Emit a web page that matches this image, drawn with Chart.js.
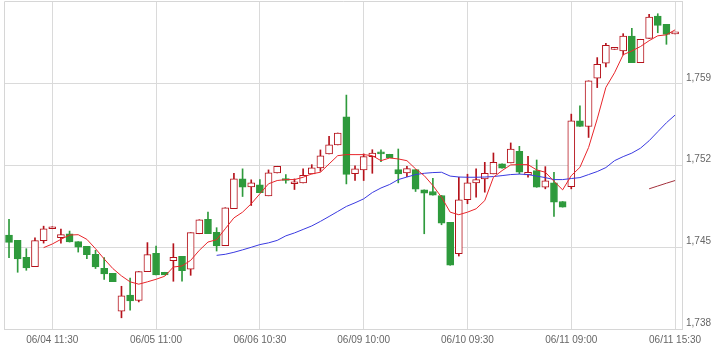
<!DOCTYPE html>
<html>
<head>
<meta charset="utf-8">
<script src="https://cdn.jsdelivr.net/npm/chart.js@4.4.1/dist/chart.umd.min.js"></script>
<style>
  html, body { margin: 0; padding: 0; background: #fff; }
  #wrap { position: relative; width: 719px; height: 352px; }
</style>
</head>
<body>
<div id="wrap"><canvas id="chart"></canvas></div>
<script>
// 30 minute bars, 13 per day
const days = ['06/04', '06/05', '06/06', '06/09', '06/10', '06/11'];
const slots = ['09:00', '09:30', '10:00', '10:30', '11:00', '11:30', '12:30', '13:00', '13:30', '14:00', '14:30', '15:00', '15:30'];
const labelIdx = [5, 17, 29, 41, 53, 65, 77];
const yTicks = [1738, 1745, 1752, 1759];

const open = [
  1746.05, 1745.59, 1744.14, 1743.35, 1745.57, 1746.59, 1745.82, 1746.16, 1745.48, 1745.08,
  1744.40, 1743.20, 1742.77, 1739.53, 1740.90, 1740.44, 1742.92, 1744.48, 1742.86, 1743.86,
  1744.23, 1743.12, 1746.16, 1747.39, 1746.28, 1745.14, 1748.30, 1750.86, 1750.18, 1750.35,
  1749.41, 1751.37, 1750.86, 1750.44, 1750.52, 1751.29, 1751.80, 1753.00, 1753.77, 1756.18,
  1751.31, 1751.63, 1752.77, 1753.08, 1752.97, 1751.66, 1751.37, 1751.66, 1749.92, 1749.78,
  1749.44, 1747.13, 1744.46, 1749.07, 1750.52, 1750.86, 1751.29, 1752.14, 1752.23, 1753.22,
  1751.20, 1751.57, 1750.14, 1750.52, 1748.92, 1750.20, 1755.84, 1755.35, 1759.49, 1760.77,
  1761.96, 1761.82, 1763.10, 1760.82, 1762.90, 1764.81, 1764.10, 1763.28
];
const high = [
  1747.39, 1745.59, 1744.88, 1745.82, 1746.81, 1746.76, 1746.56, 1746.39, 1745.48, 1745.08,
  1744.74, 1744.12, 1742.77, 1741.66, 1742.37, 1742.92, 1745.40, 1745.11, 1742.86, 1745.31,
  1744.23, 1746.25, 1747.36, 1748.01, 1746.68, 1748.39, 1751.34, 1751.72, 1750.78, 1750.80,
  1751.63, 1751.94, 1751.23, 1750.86, 1751.72, 1752.08, 1753.34, 1754.50, 1754.79, 1758.04,
  1751.97, 1753.00, 1753.36, 1753.34, 1752.97, 1753.42, 1751.94, 1751.66, 1749.92, 1750.91,
  1749.44, 1747.13, 1751.00, 1751.26, 1751.72, 1752.28, 1753.08, 1752.14, 1753.94, 1753.65,
  1752.79, 1752.48, 1751.91, 1751.43, 1748.92, 1756.41, 1757.12, 1759.26, 1761.25, 1762.48,
  1762.13, 1763.30, 1763.76, 1762.82, 1764.95, 1765.01, 1764.10, 1763.30
];
const low = [
  1744.12, 1742.86, 1743.03, 1743.35, 1745.36, 1746.59, 1745.36, 1745.45, 1744.59, 1744.03,
  1743.18, 1742.24, 1742.06, 1738.96, 1739.61, 1740.32, 1742.92, 1742.63, 1742.63, 1742.09,
  1742.09, 1742.60, 1746.16, 1746.16, 1744.68, 1745.14, 1748.30, 1749.35, 1748.58, 1749.67,
  1749.41, 1751.37, 1750.49, 1749.95, 1750.52, 1751.29, 1751.51, 1753.00, 1753.77, 1750.43,
  1750.72, 1750.72, 1751.34, 1752.34, 1752.68, 1750.52, 1751.06, 1749.78, 1746.16, 1749.46,
  1746.93, 1743.46, 1744.25, 1748.73, 1749.29, 1749.72, 1751.29, 1751.77, 1752.23, 1751.29,
  1751.00, 1750.14, 1750.01, 1747.64, 1748.44, 1750.01, 1755.35, 1754.41, 1758.68, 1760.45,
  1761.96, 1761.48, 1760.82, 1760.82, 1762.90, 1763.38, 1762.39, 1763.28
];
const close = [
  1745.42, 1744.00, 1743.23, 1745.57, 1746.59, 1746.76, 1746.08, 1745.45, 1745.02, 1744.37,
  1743.31, 1742.71, 1742.06, 1740.84, 1740.41, 1742.92, 1744.37, 1742.63, 1742.63, 1744.14,
  1743.00, 1746.25, 1747.36, 1746.16, 1745.11, 1748.39, 1750.86, 1750.14, 1750.52, 1749.67,
  1751.37, 1751.94, 1750.72, 1750.49, 1751.17, 1751.80, 1752.83, 1753.77, 1754.79, 1751.25,
  1751.72, 1752.77, 1753.08, 1753.00, 1752.68, 1751.29, 1751.74, 1749.97, 1749.63, 1749.46,
  1747.07, 1743.46, 1749.07, 1750.52, 1750.80, 1751.34, 1752.28, 1751.77, 1753.42, 1751.43,
  1751.43, 1750.14, 1750.69, 1748.86, 1748.44, 1755.84, 1755.35, 1759.26, 1760.68, 1762.30,
  1762.13, 1763.10, 1760.82, 1762.82, 1764.72, 1764.01, 1763.24, 1763.30
];

// moving averages as drawn
const ma5 = [
  null, null, null, null, 1744.97, 1745.28, 1745.68, 1746.05, 1746.08, 1745.68,
  1744.88, 1744.00, 1743.18, 1742.55, 1742.04, 1741.84, 1742.04, 1742.26, 1742.52, 1743.31,
  1743.40, 1743.88, 1744.74, 1745.45, 1745.65, 1746.59, 1747.52, 1748.01, 1748.73, 1749.58,
  1750.44, 1750.72, 1750.80, 1750.80, 1751.00, 1751.29, 1751.43, 1752.14, 1752.85, 1752.94,
  1752.94, 1752.94, 1752.85, 1752.42, 1752.65, 1752.57, 1752.42, 1751.72, 1751.14, 1750.29,
  1749.29, 1748.01, 1747.79, 1748.01, 1748.30, 1749.00, 1751.00, 1751.57, 1752.06, 1752.08,
  1752.08, 1751.63, 1751.43, 1750.66, 1749.92, 1751.14, 1751.85, 1753.55, 1756.00, 1758.70,
  1759.95, 1761.50, 1761.82, 1762.20, 1762.70, 1763.12, 1763.20, 1763.63
];
const ma25 = [
  null, null, null, null, null, null, null, null, null, null,
  null, null, null, null, null, null, null, null, null, null,
  null, null, null, null, 1744.31, 1744.40, 1744.57, 1744.78, 1745.00, 1745.23,
  1745.38, 1745.59, 1745.98, 1746.23, 1746.53, 1746.83, 1747.22, 1747.64, 1748.07, 1748.50,
  1748.81, 1749.15, 1749.69, 1750.08, 1750.38, 1750.80, 1751.02, 1751.23, 1751.34, 1751.40,
  1751.43, 1751.10, 1751.02, 1751.00, 1751.00, 1751.02, 1751.06, 1751.14, 1751.23, 1751.27,
  1751.23, 1751.10, 1750.97, 1750.80, 1750.80, 1750.89, 1750.97, 1751.23, 1751.49, 1751.83,
  1752.42, 1752.77, 1753.07, 1753.49, 1754.13, 1754.90, 1755.67, 1756.33
];
const ma75 = [1750.01, 1750.25, 1750.49, 1750.72]; // from bar 74

const UP = '#b5121b';
const DOWN = '#2e9a3c';

const times = [];
days.forEach(d => slots.forEach(s => times.push(d + ' ' + s)));
const isUp = close.map((c, i) => c >= open[i]);

const bodyData = times.map((t, i) => ({ x: i, y: [open[i], close[i]] }));
const wickData = times.map((t, i) => ({ x: i, y: [low[i], high[i]] }));
const toPoints = (arr, start) => arr.map((v, i) => ({ x: i + start, y: v })).filter(p => p.y !== null);

const frame = {
  id: 'frame',
  beforeDatasetsDraw(chart) {
    const { ctx, chartArea: a } = chart;
    ctx.save();
    ctx.strokeStyle = '#d6d6d6';
    ctx.lineWidth = 1;
    ctx.beginPath();
    ctx.moveTo(a.left + 0.5, a.bottom);
    ctx.lineTo(a.left + 0.5, a.top + 0.5);
    ctx.lineTo(a.right, a.top + 0.5);
    ctx.stroke();
    ctx.restore();
  }
};

const font = { family: '"Liberation Sans", Arial, sans-serif', size: 10 };

new Chart(document.getElementById('chart'), {
  type: 'bar',
  data: {
    datasets: [
      {
        type: 'line', data: toPoints(ma5, 0), borderColor: '#e8262b', borderWidth: 1,
        pointRadius: 0, tension: 0, order: 0
      },
      {
        type: 'line', data: toPoints(ma25, 0), borderColor: '#3a3ae0', borderWidth: 1,
        pointRadius: 0, tension: 0, order: 0
      },
      {
        type: 'line', data: toPoints(ma75, 74), borderColor: '#a3303c', borderWidth: 1,
        pointRadius: 0, tension: 0, order: 0
      },
      {
        data: bodyData,
        backgroundColor: isUp.map(u => u ? '#ffffff' : DOWN),
        borderColor: isUp.map(u => u ? UP : DOWN),
        borderWidth: 1, borderSkipped: false, barThickness: 7, minBarLength: 2,
        grouped: false, order: 1
      },
      {
        data: wickData,
        backgroundColor: isUp.map(u => u ? UP : DOWN),
        borderWidth: 0, barThickness: 1, grouped: false, order: 2
      }
    ]
  },
  options: {
    responsive: true,
    maintainAspectRatio: false,
    animation: false,
    layout: { padding: { left: 4, top: 1, right: 0, bottom: 0 } },
    plugins: { legend: { display: false }, tooltip: { enabled: false } },
    scales: {
      x: {
        type: 'linear', min: -0.58, max: 77.8, offset: false,
        afterBuildTicks: s => { s.ticks = labelIdx.map(v => ({ value: v })); },
        afterFit: s => { s.height = 23; s.paddingLeft = 0; s.paddingRight = 0; },
        ticks: {
          callback: v => times[v], autoSkip: false, maxRotation: 0,
          color: '#666', font, padding: 5
        },
        grid: { color: '#dadada', drawTicks: false, offset: false },
        border: { color: '#d6d6d6' }
      },
      y: {
        position: 'right', min: 1738, max: 1766.1,
        afterBuildTicks: s => { s.ticks = yTicks.map(v => ({ value: v })); },
        afterFit: s => { s.width = 37; s.paddingTop = 0; s.paddingBottom = 0; },
        ticks: {
          callback: v => v.toLocaleString('en-US'), color: '#666', font,
          padding: 4, labelOffset: -6
        },
        grid: { color: '#dadada', drawTicks: false },
        border: { color: '#d6d6d6' }
      }
    }
  },
  plugins: [frame]
});
</script>
</body>
</html>
